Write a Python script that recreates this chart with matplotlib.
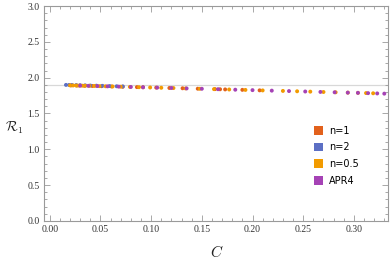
import numpy as np
import matplotlib.pyplot as plt
from matplotlib.patches import Patch
from matplotlib.ticker import MultipleLocator

# compactness C and R1 values per EOS
c_n1 = [0.021, 0.027, 0.034, 0.042, 0.051, 0.061, 0.072, 0.086, 0.092, 0.105,
        0.118, 0.131, 0.146, 0.163, 0.168, 0.173, 0.190, 0.207]
r_n1 = [1.892, 1.890, 1.887, 1.884, 1.881, 1.877, 1.873, 1.868, 1.866, 1.861,
        1.856, 1.852, 1.846, 1.840, 1.838, 1.836, 1.830, 1.823]

c_n2 = [0.016, 0.019, 0.022, 0.026, 0.030, 0.035, 0.040, 0.046, 0.052, 0.059,
        0.066, 0.072]
r_n2 = [1.899, 1.898, 1.897, 1.896, 1.894, 1.892, 1.890, 1.888, 1.886, 1.883,
        1.880, 1.878]

c_n05 = [0.020, 0.023, 0.026, 0.029, 0.032, 0.035, 0.039, 0.044, 0.049, 0.055,
         0.062, 0.070, 0.079, 0.088, 0.099, 0.110, 0.122, 0.134, 0.148, 0.162,
         0.177, 0.193, 0.210, 0.230, 0.244, 0.257, 0.270, 0.282, 0.294, 0.304,
         0.312, 0.319]
r_n05 = [1.893, 1.891, 1.890, 1.889, 1.888, 1.887, 1.886, 1.884, 1.882, 1.880,
         1.877, 1.874, 1.871, 1.867, 1.863, 1.859, 1.855, 1.850, 1.845, 1.840,
         1.835, 1.829, 1.822, 1.815, 1.810, 1.805, 1.800, 1.796, 1.791, 1.788,
         1.785, 1.782]

c_apr4 = [0.030, 0.038, 0.047, 0.057, 0.068, 0.080, 0.092, 0.106, 0.120, 0.135,
          0.150, 0.166, 0.183, 0.200, 0.219, 0.236, 0.252, 0.267, 0.281, 0.294,
          0.304, 0.314, 0.323, 0.330]
r_apr4 = [1.889, 1.886, 1.883, 1.879, 1.875, 1.870, 1.866, 1.861, 1.856, 1.850,
          1.845, 1.839, 1.832, 1.826, 1.819, 1.813, 1.807, 1.801, 1.796, 1.791,
          1.788, 1.784, 1.780, 1.777]

r_ref = 1.9

labels = ['n=1', 'n=2', 'n=0.5', 'APR4']
colors = ['#E2611C', '#5C6FC4', '#F29B00', '#A542B5']
series = [(c_n1, r_n1), (c_n2, r_n2), (c_n05, r_n05), (c_apr4, r_apr4)]

fig = plt.figure(figsize=(3.9, 2.63), dpi=100)
ax = fig.add_axes([0.112, 0.16, 0.883, 0.817])

ax.axhline(r_ref, color='#d8d8d8', lw=0.9, zorder=1)
for (c, r), col in zip(series, colors):
    ax.scatter(c, r, s=8, color=col, edgecolors='none', zorder=3)

ax.set_xlim(-0.006, 0.3337)
ax.set_ylim(0, 3)
ax.xaxis.set_major_locator(MultipleLocator(0.05))
ax.xaxis.set_minor_locator(MultipleLocator(0.01))
ax.yaxis.set_major_locator(MultipleLocator(0.5))
ax.yaxis.set_minor_locator(MultipleLocator(0.1))

for s in ax.spines.values():
    s.set_color('#9a9a9a')
    s.set_linewidth(0.8)
ax.tick_params(which='both', direction='in', top=True, right=True,
               color='#9a9a9a', width=0.6, labelsize=7, labelcolor='#333333',
               pad=3)
ax.tick_params(which='major', length=4)
ax.tick_params(which='minor', length=2)
ax.set_xticklabels([f'{v:.2f}' for v in ax.get_xticks()], family='Liberation Serif')
ax.set_yticklabels([f'{v:.1f}' for v in ax.get_yticks()], family='Liberation Serif')

plt.rcParams['mathtext.fontset'] = 'cm'
fig.text(0.036, 0.515, r'$\mathcal{R}_1$', fontsize=10, ha='center', va='center',
         color='#222222')
fig.text(0.556, 0.042, '$C$', fontsize=11, ha='center', va='center',
         color='#222222')

handles = [Patch(facecolor=col, edgecolor='none') for col in colors]
ax.legend(handles, labels, loc='lower right', bbox_to_anchor=(0.93, 0.14),
          frameon=False, fontsize=7, handlelength=1.0, handleheight=1.0,
          handletextpad=0.6, labelspacing=0.7, borderpad=0)

fig.savefig('out.png', dpi=100)
